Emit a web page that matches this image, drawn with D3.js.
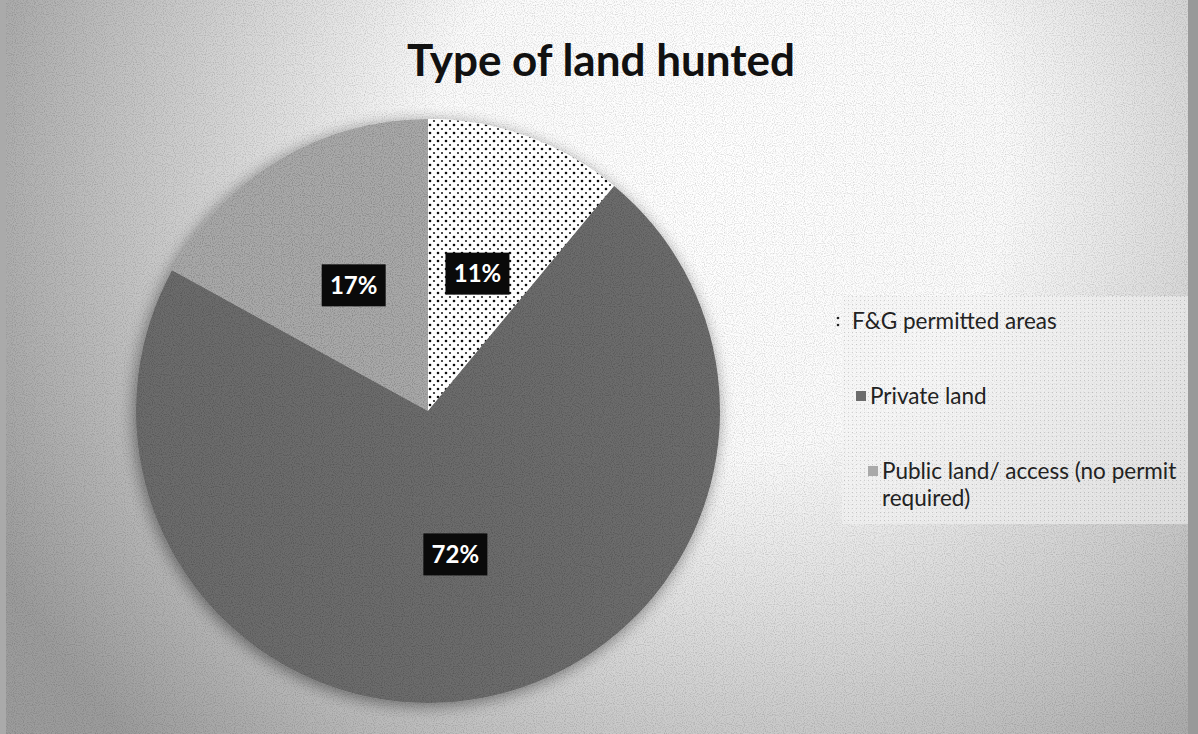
<!DOCTYPE html>
<html>
<head>
<meta charset="utf-8">
<script src="https://cdn.jsdelivr.net/npm/d3@7/dist/d3.min.js"></script>
<style>
  html, body { margin: 0; padding: 0; background: #fff; }
  svg { display: block; }
</style>
</head>
<body>
<svg id="chart" width="1198" height="734"></svg>
<script>
// ---- data ----
const categories = ["F&G permitted areas", "Private land", "Public land/ access (no permit required)"];
const values = [11, 72, 17];
const labels = ["11%", "72%", "17%"];
const legendLines = [["F&G permitted areas"], ["Private land"], ["Public land/ access (no permit", "required)"]];
const title = "Type of land hunted";

// ---- layout ----
const W = 1198, H = 734;
const cx = 428, cy = 411, R = 292;
const svg = d3.select("#chart");
const defs = svg.append("defs");

// background gradient
const bg = defs.append("radialGradient").attr("id", "bg")
  .attr("gradientUnits", "userSpaceOnUse")
  .attr("cx", 720).attr("cy", 170).attr("r", 820);
bg.append("stop").attr("offset", "0").attr("stop-color", "#ffffff");
bg.append("stop").attr("offset", "0.35").attr("stop-color", "#fbfbfb");
bg.append("stop").attr("offset", "0.65").attr("stop-color", "#cfcfcf");
bg.append("stop").attr("offset", "1").attr("stop-color", "#9c9c9c");

// noise filter for halftone feel
const nf = defs.append("filter").attr("id", "noise").attr("x", 0).attr("y", 0).attr("width", "100%").attr("height", "100%");
nf.append("feTurbulence").attr("type", "fractalNoise").attr("baseFrequency", 0.9).attr("numOctaves", 1).attr("seed", 3).attr("result", "n");
nf.append("feColorMatrix").attr("in", "n").attr("type", "matrix")
  .attr("values", "0 0 0 0 0  0 0 0 0 0  0 0 0 0 0  0 0 0 -1.6 0.9").attr("result", "a");
nf.append("feComposite").attr("in", "a").attr("in2", "SourceGraphic").attr("operator", "in");

// dot pattern
const dots = defs.append("pattern").attr("id", "dots").attr("patternUnits", "userSpaceOnUse")
  .attr("width", 8).attr("height", 8);
dots.append("rect").attr("width", 8).attr("height", 8).attr("fill", "#ffffff");
dots.append("circle").attr("cx", 2).attr("cy", 2).attr("r", 1.3).attr("fill", "#111");
dots.append("circle").attr("cx", 6).attr("cy", 6).attr("r", 1.1).attr("fill", "#222");

// legend lighter area pattern
const grid = defs.append("pattern").attr("id", "grid").attr("patternUnits", "userSpaceOnUse")
  .attr("width", 4).attr("height", 4);
grid.append("rect").attr("width", 4).attr("height", 4).attr("fill", "#f4f4f4");
grid.append("rect").attr("width", 1).attr("height", 1).attr("fill", "#b0b0b0");

// drop shadow
const sh = defs.append("filter").attr("id", "shadow").attr("x", "-20%").attr("y", "-20%").attr("width", "140%").attr("height", "140%");
sh.append("feGaussianBlur").attr("in", "SourceAlpha").attr("stdDeviation", 8).attr("result", "b");
sh.append("feOffset").attr("in", "b").attr("dx", -2).attr("dy", 3).attr("result", "o");
sh.append("feComponentTransfer").attr("in", "o").attr("result", "o2")
  .append("feFuncA").attr("type", "linear").attr("slope", 0.45);
const m = sh.append("feMerge");
m.append("feMergeNode").attr("in", "o2");
m.append("feMergeNode").attr("in", "SourceGraphic");

// background
svg.append("rect").attr("x", 0).attr("y", 0).attr("width", W).attr("height", H).attr("fill", "url(#bg)");
svg.append("rect").attr("x", 0).attr("y", 0).attr("width", W).attr("height", H).attr("fill", "#777").attr("filter", "url(#noise)").attr("opacity", 0.25);
svg.append("rect").attr("x", 0).attr("y", 0).attr("width", 6).attr("height", H).attr("fill", "#aaa");
svg.append("rect").attr("x", 1188).attr("y", 0).attr("width", 10).attr("height", H).attr("fill", "#999");

// legend area
svg.append("rect").attr("x", 842).attr("y", 296).attr("width", 346).attr("height", 228)
  .attr("fill", "url(#grid)").attr("opacity", 0.55);

// title
svg.append("text").attr("x", 601).attr("y", 76).attr("text-anchor", "middle")
  .attr("font-family", "Lato, 'Open Sans', sans-serif").attr("font-weight", 700)
  .attr("font-size", 44).attr("fill", "#111").text(title);

// pie
const colors = ["url(#dots)", "#6c6c6c", "#a9a9a9"];
const color = d3.scaleOrdinal().domain(categories).range(colors);
const pie = d3.pie().sort(null).value(d => d.v);
const data = pie(categories.map((c, i) => ({ c, v: values[i], l: labels[i] })));
const arc = d3.arc().innerRadius(0).outerRadius(R);

const g = svg.append("g").attr("transform", `translate(${cx},${cy})`);
g.append("g").attr("filter", "url(#shadow)")
  .selectAll("path").data(data).join("path")
  .attr("d", arc).attr("fill", d => color(d.data.c));

// texture over dark slices
g.selectAll("path.tex").data(data.slice(1)).join("path").attr("class", "tex")
  .attr("d", arc).attr("fill", "#333").attr("filter", "url(#noise)").attr("opacity", 0.35);

// data labels
const lab = g.selectAll("g.lab").data(data).join("g").attr("class", "lab")
  .attr("transform", d => `translate(${arc.centroid(d)})`);
lab.append("rect").attr("x", -32).attr("y", -21).attr("width", 64).attr("height", 42).attr("fill", "#0a0a0a");
lab.append("text").attr("text-anchor", "middle").attr("dy", "0.36em")
  .attr("font-family", "Lato, 'Open Sans', sans-serif").attr("font-weight", 700)
  .attr("font-size", 24).attr("fill", "#fff").text(d => d.data.l);

// legend
const legY = [321, 396, 471];
const legX = [852, 870, 882];
const leg = svg.append("g");
categories.forEach((c, i) => {
  const gi = leg.append("g");
  if (i === 0) {
    gi.append("circle").attr("cx", legX[i] - 14).attr("cy", legY[i] - 3).attr("r", 1.3).attr("fill", "#222");
    gi.append("circle").attr("cx", legX[i] - 14).attr("cy", legY[i] + 4).attr("r", 1.3).attr("fill", "#222");
  } else {
    gi.append("rect").attr("x", legX[i] - 14).attr("y", legY[i] - 5).attr("width", 10).attr("height", 10)
      .attr("fill", color(c));
  }
  const t = gi.append("text").attr("font-family", "Lato, 'Open Sans', sans-serif")
    .attr("font-size", 22.5).attr("fill", "#222");
  legendLines[i].forEach((line, j) => {
    t.append("tspan").attr("x", legX[i]).attr("y", legY[i] + 8 + j * 27).text(line);
  });
});
</script>
</body>
</html>
